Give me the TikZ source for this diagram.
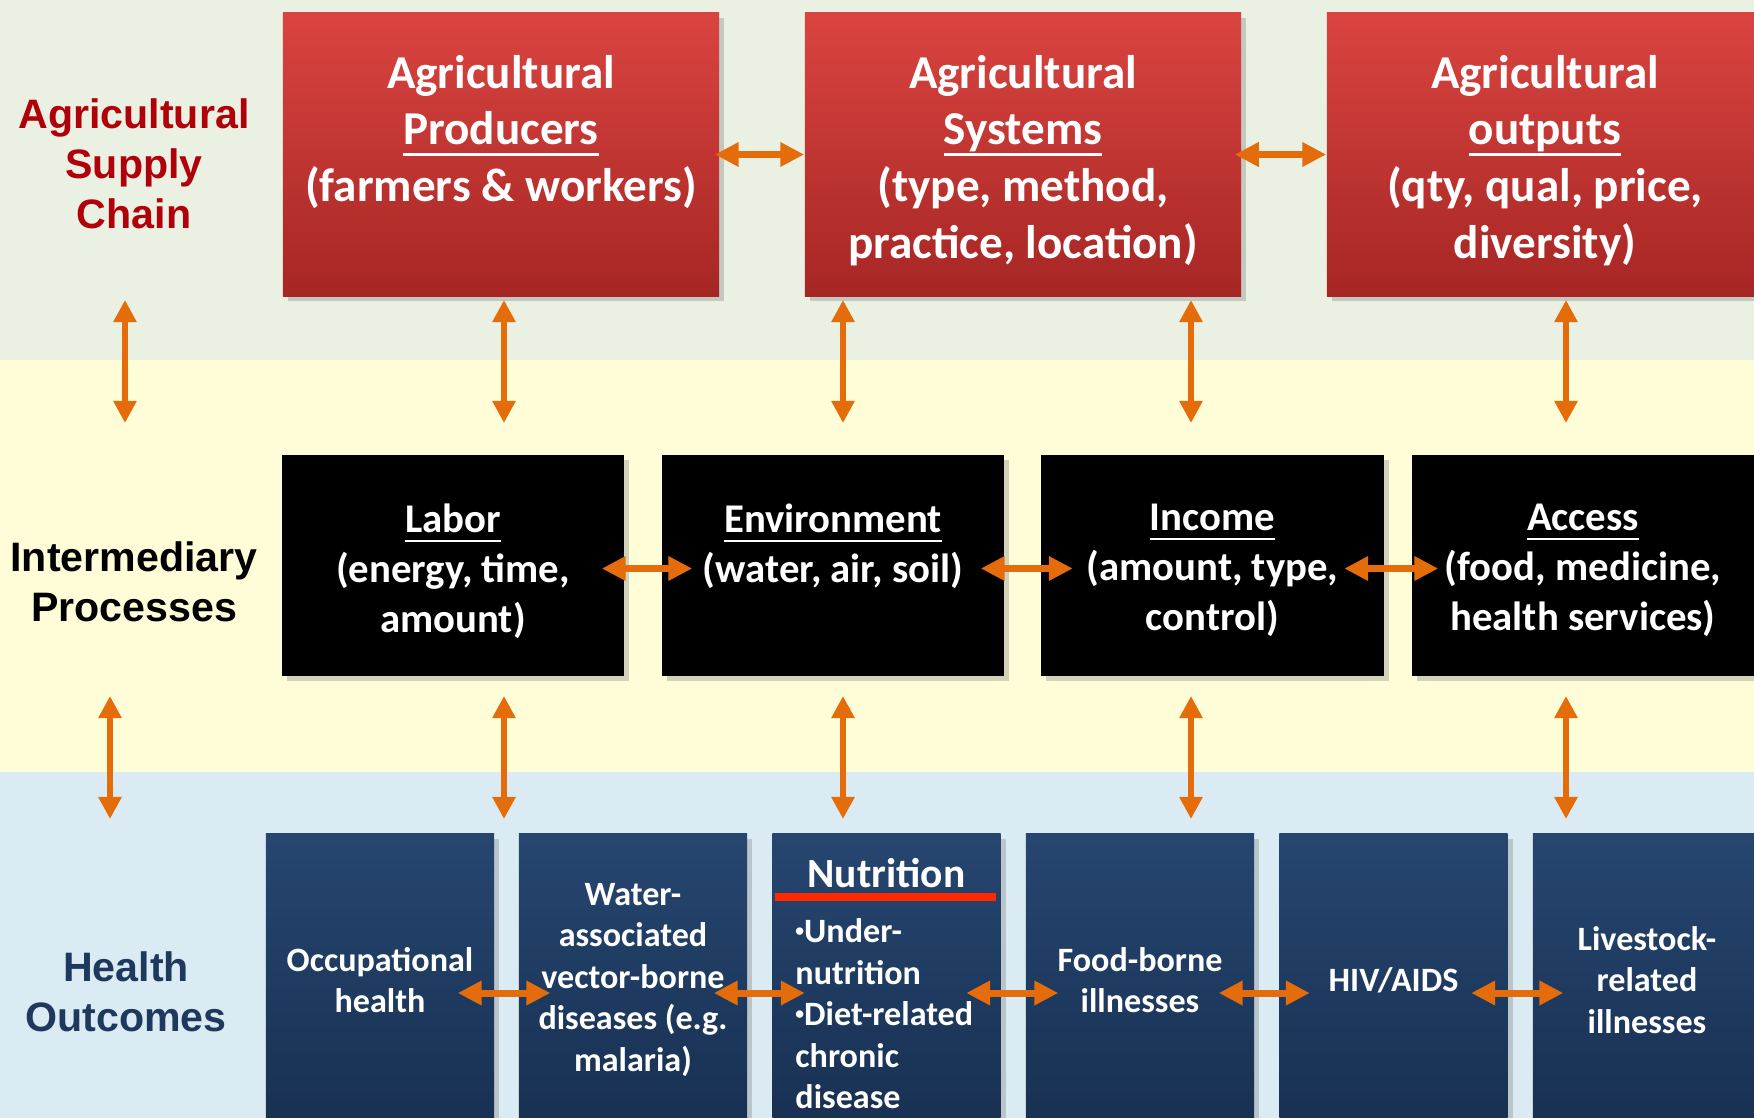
\documentclass[tikz,border=0pt]{standalone}
\usepackage{fontspec}
\newfontfamily\calib{Carlito}
\newfontfamily\arialf{Liberation Sans}
\usetikzlibrary{positioning,arrows.meta,shadows}
\definecolor{bandtop}{RGB}{234,240,226}
\definecolor{bandmid}{RGB}{254,253,216}
\definecolor{bandlow}{RGB}{218,235,243}
\definecolor{redtop}{RGB}{218,68,64}
\definecolor{redbot}{RGB}{166,38,36}
\definecolor{navytop}{RGB}{38,70,112}
\definecolor{navybot}{RGB}{24,48,82}
\definecolor{arrorange}{RGB}{228,108,10}
\definecolor{chainred}{RGB}{176,0,10}
\definecolor{outcomeblue}{RGB}{31,56,94}
\definecolor{nutribar}{RGB}{255,40,0}
\newcommand{\undl}[1]{\begingroup\setbox0=\hbox{#1}\rlap{\rule[-0.24em]{\wd0}{0.06em}}\box0\endgroup}
\newcommand{\smallbul}{\raisebox{1.8pt}{\fontsize{5}{0}\selectfont•}}
\tikzset{
    rowlabel/.style={align=center, font=\arialf\bfseries\fontsize{11.7}{14.3}\selectfont},
    redbox/.style={minimum width=4.36cm, minimum height=2.83cm, inner sep=0pt,
        top color=redtop, bottom color=redbot,
        drop shadow={opacity=0.35, shadow xshift=0.05cm, shadow yshift=-0.05cm}},
    redtxt/.style={align=center, inner sep=0pt, text=white,
        font=\calib\bfseries\fontsize{13.4}{16.2}\selectfont},
    blkbox/.style={minimum width=3.42cm, minimum height=2.21cm, inner sep=0pt, fill=black,
        drop shadow={opacity=0.35, shadow xshift=0.05cm, shadow yshift=-0.05cm}},
    blktxt/.style={align=center, inner sep=0pt, text=white,
        font=\calib\bfseries\fontsize{11.6}{14.2}\selectfont},
    bluebox/.style={minimum width=2.28cm, minimum height=2.92cm, inner sep=0pt,
        top color=navytop, bottom color=navybot, align=center, text=white,
        font=\calib\bfseries\fontsize{9.7}{11.8}\selectfont,
        drop shadow={opacity=0.35, shadow xshift=0.05cm, shadow yshift=-0.05cm}},
    nutrihead/.style={inner sep=0pt, text=white, font=\calib\bfseries\fontsize{11.8}{14}\selectfont},
    nutribar/.style={draw=nutribar, line width=2.2pt},
    harrow/.style={arrorange, line width=2pt, {Triangle[width=6.6pt,length=6.8pt]}-{Triangle[width=6.6pt,length=6.8pt]}},
    varrow/.style={arrorange, line width=1.9pt, {Triangle[width=6.3pt,length=6.3pt]}-{Triangle[width=6.3pt,length=6.3pt]}}
}
\begin{document}
\begin{tikzpicture}[x=0.01cm, y=-0.01cm]
\useasboundingbox (0,0) rectangle (1754,1118);
\clip (0,0) rectangle (1754,1118);
% bands
\fill[bandtop] (0,0) rectangle (1754,360);
\fill[bandmid] (0,360) rectangle (1754,772);
\fill[bandlow] (0,772) rectangle (1754,1118);

% row labels
\node[rowlabel, text=chainred] (chain) at (134,164) {Agricultural\\Supply\\Chain};
\node[rowlabel] (inter) at (134,582) {Intermediary\\Processes};
\node[rowlabel, text=outcomeblue] (outcome) at (126,992) {Health\\Outcomes};

% supply chain
\node[redbox] (prod) at (501,154.5) {};
\node[redtxt, below=0.42cm of prod.north] (prodtxt) {Agricultural\\\undl{Producers}\\(farmers \& workers)};
\node[redbox] (sys) at (1023,154.5) {};
\node[redtxt, below=0.42cm of sys.north] (systxt) {Agricultural\\\undl{Systems}\\(type, method,\\practice, location)};
\node[redbox] (outp) at (1545,154.5) {};
\node[redtxt, below=0.42cm of outp.north] (outptxt) {Agricultural\\\undl{outputs}\\(qty, qual, price,\\diversity)};

% intermediary processes
\node[blkbox] (labor) at (453,565.5) {};
\node[blktxt, below=0.49cm of labor.north] (labortxt) {\undl{Labor}\\(energy, time,\\amount)};
\node[blkbox] (env) at (833,565.5) {};
\node[blktxt, below=0.49cm of env.north] (envtxt) {\undl{Environment}\\(water, air, soil)};
\node[blkbox] (inc) at (1212.5,565.5) {};
\node[blktxt, below=0.49cm of inc.north] (inctxt) {\undl{Income}\\(amount, type,\\control)};
\node[blkbox] (acc) at (1583,565.5) {};
\node[blktxt, below=0.49cm of acc.north] (acctxt) {\undl{Access}\\(food, medicine,\\health services)};

% health outcomes
\node[bluebox] (occ) at (380,980) {Occupational\\health};
\node[bluebox] (water) at (633,980) {Water-\\associated\\vector-borne\\diseases (e.g.\\malaria)};
\node[bluebox] (nutri) at (886.5,980) {};
\node[bluebox] (food) at (1140,980) {Food-borne\\illnesses};
\node[bluebox] (hiv) at (1393.5,980) {HIV/AIDS};
\node[bluebox] (live) at (1647,980) {Livestock-\\related\\illnesses};
\node[nutrihead, below=0.24cm of nutri.north] (nutrititle) {Nutrition};
\draw[nutribar] ([xshift=0.03cm,yshift=-0.64cm]nutri.north west) -- ([xshift=-0.05cm,yshift=-0.64cm]nutri.north east);
\node[inner sep=0pt, align=left, anchor=north west, text=white, font=\calib\bfseries\fontsize{9.7}{11.8}\selectfont]
    (nutrilist) at ([xshift=0.23cm,yshift=-0.85cm]nutri.north west) {\smallbul Under-\\nutrition\\\smallbul Diet-related\\chronic\\disease};

% horizontal links
\draw[harrow, shorten <=-0.05cm] (prod.east) -- (sys.west);
\draw[harrow, shorten <=-0.07cm] (sys.east) -- (outp.west);
\draw[harrow, shorten <=-0.23cm, shorten >=-0.31cm] ([yshift=-0.03cm]labor.east) -- ([yshift=-0.03cm]env.west);
\draw[harrow, shorten <=-0.24cm, shorten >=-0.32cm] ([yshift=-0.03cm]env.east) -- ([yshift=-0.03cm]inc.west);
\draw[harrow, shorten <=-0.40cm, shorten >=-0.27cm] ([yshift=-0.03cm]inc.east) -- ([yshift=-0.03cm]acc.west);
\draw[harrow, shorten <=-0.37cm, shorten >=-0.32cm] ([yshift=-0.13cm]occ.east) -- ([yshift=-0.13cm]water.west);
\draw[harrow, shorten <=-0.34cm, shorten >=-0.33cm] ([yshift=-0.13cm]water.east) -- ([yshift=-0.13cm]nutri.west);
\draw[harrow, shorten <=-0.35cm, shorten >=-0.33cm] ([yshift=-0.13cm]nutri.east) -- ([yshift=-0.13cm]food.west);
\draw[harrow, shorten <=-0.36cm, shorten >=-0.31cm] ([yshift=-0.13cm]food.east) -- ([yshift=-0.13cm]hiv.west);
\draw[harrow, shorten <=-0.37cm, shorten >=-0.31cm] ([yshift=-0.13cm]hiv.east) -- ([yshift=-0.13cm]live.west);

% vertical links
\coordinate (ta1) at (125,300);  \coordinate (tb1) at (125,423);
\coordinate (ta2) at (504,300);  \coordinate (tb2) at (504,423);
\coordinate (ta3) at (843,300);  \coordinate (tb3) at (843,423);
\coordinate (ta4) at (1191,300); \coordinate (tb4) at (1191,423);
\coordinate (ta5) at (1566,300); \coordinate (tb5) at (1566,423);
\coordinate (ba1) at (110,696);  \coordinate (bb1) at (110,819);
\coordinate (ba2) at (504,696);  \coordinate (bb2) at (504,819);
\coordinate (ba3) at (843,696);  \coordinate (bb3) at (843,819);
\coordinate (ba4) at (1191,696); \coordinate (bb4) at (1191,819);
\coordinate (ba5) at (1566,696); \coordinate (bb5) at (1566,819);
\draw[varrow] (ta1) -- (tb1);
\draw[varrow] (ta2) -- (tb2);
\draw[varrow] (ta3) -- (tb3);
\draw[varrow] (ta4) -- (tb4);
\draw[varrow] (ta5) -- (tb5);
\draw[varrow] (ba1) -- (bb1);
\draw[varrow] (ba2) -- (bb2);
\draw[varrow] (ba3) -- (bb3);
\draw[varrow] (ba4) -- (bb4);
\draw[varrow] (ba5) -- (bb5);
\end{tikzpicture}
\end{document}
